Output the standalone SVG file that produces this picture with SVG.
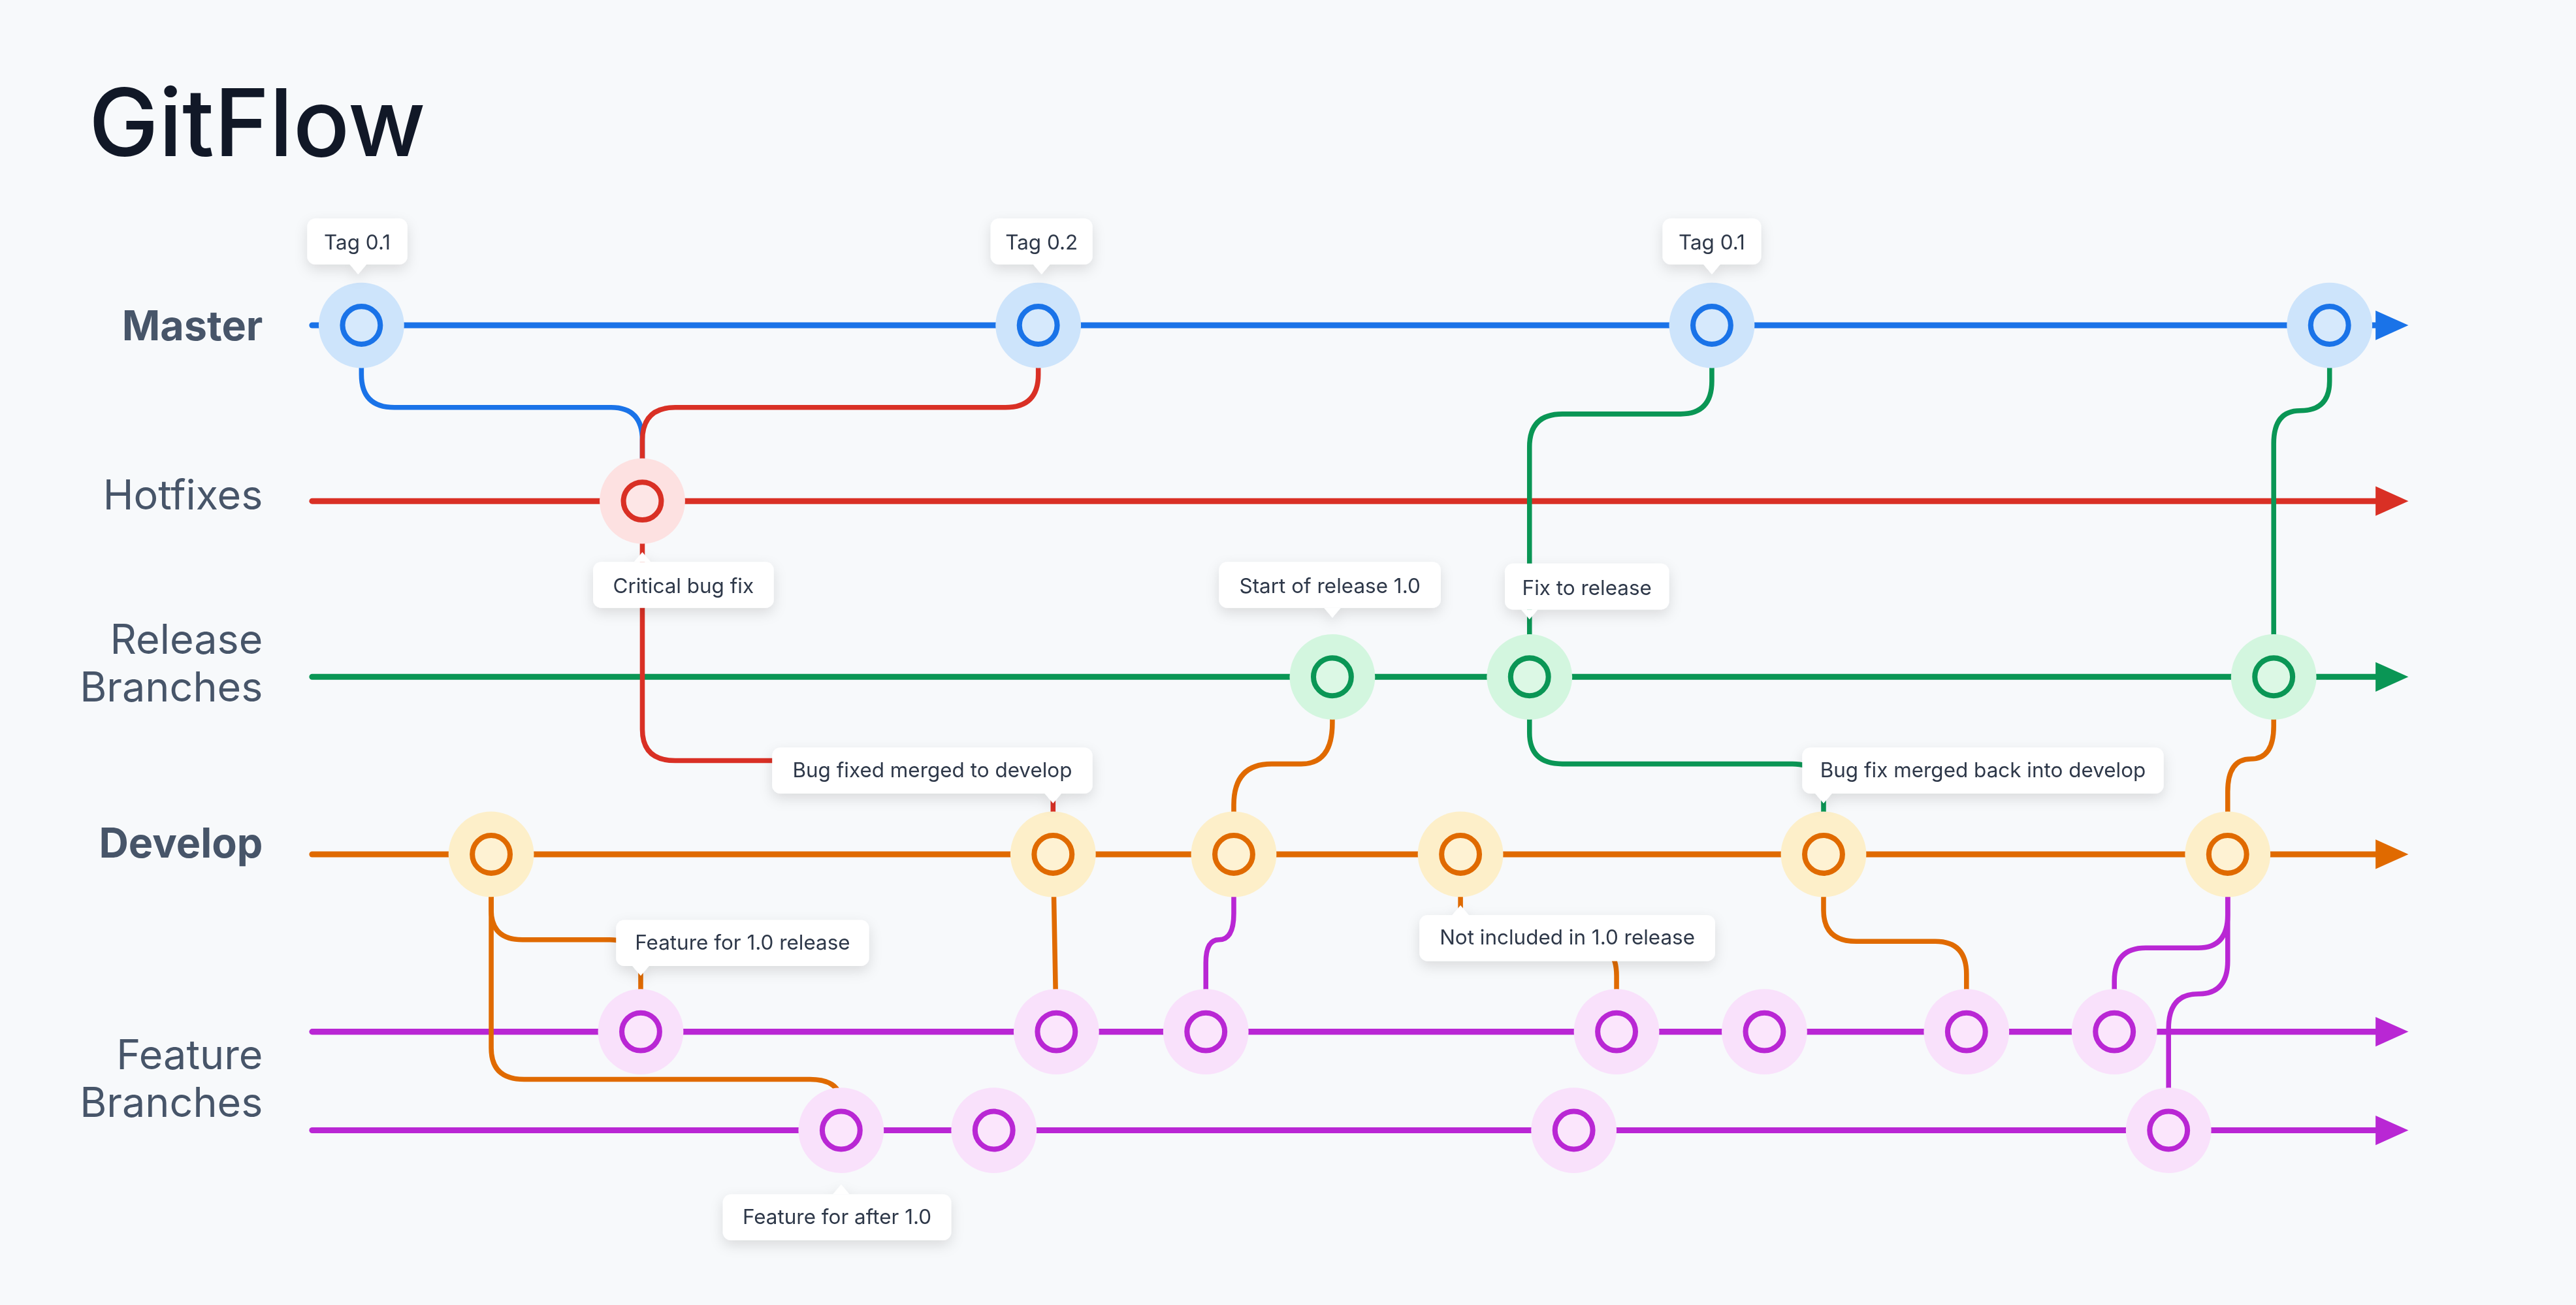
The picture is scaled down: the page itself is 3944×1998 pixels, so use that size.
<svg xmlns="http://www.w3.org/2000/svg" width="3944" height="1998" viewBox="0 0 3944 1998">
<defs>
<style>
.ln{fill:none;stroke-width:3.6;stroke-linecap:round}
.cn{fill:none;stroke-width:3;stroke-linecap:round}
.nd{stroke-width:3.2}
.lane{font-family:Inter,"Liberation Sans",sans-serif;font-size:25px;fill:#475569;text-anchor:end}
.tip{font-family:Inter,"Liberation Sans",sans-serif;font-size:12.5px;fill:#2d3748;text-anchor:middle}
.box{fill:#ffffff}
.b{stroke:#1a73e8}.r{stroke:#d93025}.g{stroke:#0a9655}.o{stroke:#e06a00}.p{stroke:#b927d4}
</style>
<filter id="sh" x="-30%" y="-60%" width="160%" height="240%">
<feDropShadow dx="0" dy="3" stdDeviation="4" flood-color="#000" flood-opacity="0.12"/>
</filter>
</defs>
<rect width="3944" height="1998" fill="#f7f9fb"/>
<g transform="scale(2.5153)">
<text x="54" y="95" font-family="Inter,'Liberation Sans',sans-serif" font-size="57" font-weight="500" fill="#111827">GitFlow</text>
<g id="lane-labels">
<text class="lane" x="160" y="207" font-weight="700">Master</text>
<text class="lane" x="160" y="310">Hotfixes</text>
<text class="lane" x="160" y="398">Release</text>
<text class="lane" x="160" y="427">Branches</text>
<text class="lane" x="160" y="522" font-weight="700">Develop</text>
<text class="lane" x="160" y="651">Feature</text>
<text class="lane" x="160" y="680">Branches</text>
</g>
<g id="lanes">
<line class="ln b" x1="190" y1="198" x2="1450" y2="198"/><polygon points="1446,189 1466,198 1446,207" fill="#1a73e8"/>
<line class="ln r" x1="190" y1="305" x2="1450" y2="305"/><polygon points="1446,296 1466,305 1446,314" fill="#d93025"/>
<line class="ln g" x1="190" y1="412" x2="1450" y2="412"/><polygon points="1446,403 1466,412 1446,421" fill="#0a9655"/>
<line class="ln o" x1="190" y1="520" x2="1450" y2="520"/><polygon points="1446,511 1466,520 1446,529" fill="#e06a00"/>
<line class="ln p" x1="190" y1="628" x2="1450" y2="628"/><polygon points="1446,619 1466,628 1446,637" fill="#b927d4"/>
<line class="ln p" x1="190" y1="688" x2="1450" y2="688"/><polygon points="1446,679 1466,688 1446,697" fill="#b927d4"/>
</g>
<g id="connectors">
<path class="cn b" d="M220,198 V228 Q220,248 240,248 H372 Q391,248 391,268 V305"/>
<path class="cn r" d="M391,305 V268 Q391,248 411,248 H612 Q632,248 632,228 V198"/>
<path class="cn r" d="M391,305 V444 Q391,463 411,463 H622 Q641,463 641,482 V520"/>
<path class="cn g" d="M931,412 V272 Q931,252 951,252 H1023 Q1042,252 1042,232 V198"/>
<path class="cn g" d="M931,412 V446 Q931,465 951,465 H1091 Q1110,465 1110,484 V520"/>
<path class="cn g" d="M1384,412 V270 Q1384,250 1400,250 Q1418,250 1418,232 V198"/>
<path class="cn o" d="M751,520 V490 Q751,465 774,465 H792 Q811,465 811,440 V412"/>
<path class="cn o" d="M1356,520 V482 Q1356,462 1370,462 Q1384,462 1384,442 V412"/>
<path class="cn o" d="M299,520 V554 Q299,572 318,572 H371 Q390,572 390,592 V628"/>
<path class="cn o" d="M299,520 V638 Q299,657 319,657 H493 Q512,657 512,672 V688"/>
<path class="cn o" d="M641,520 L643,628"/>
<path class="cn p" d="M734,628 V586 Q734,572 742,572 Q751,572 751,556 V520"/>
<path class="cn o" d="M889,520 V556 Q889,574 908,574 H966 Q984,574 984,594 V628"/>
<path class="cn o" d="M1110,520 V554 Q1110,573 1130,573 H1178 Q1197,573 1197,593 V628"/>
<path class="cn p" d="M1287,628 V597 Q1287,577 1306,577 H1338 Q1356,577 1356,557 V520"/>
<path class="cn p" d="M1320,688 V626 Q1320,605 1338,605 Q1356,605 1356,585 V520"/>
</g>
<g id="nodes">
<g id="m1"><circle cx="220" cy="198" r="26" fill="#cde4fb"/><circle class="nd b" cx="220" cy="198" r="11.5" fill="#d6e9fc"/></g>
<g id="m2"><circle cx="632" cy="198" r="26" fill="#cde4fb"/><circle class="nd b" cx="632" cy="198" r="11.5" fill="#d6e9fc"/></g>
<g id="m3"><circle cx="1042" cy="198" r="26" fill="#cde4fb"/><circle class="nd b" cx="1042" cy="198" r="11.5" fill="#d6e9fc"/></g>
<g id="m4"><circle cx="1418" cy="198" r="26" fill="#cde4fb"/><circle class="nd b" cx="1418" cy="198" r="11.5" fill="#d6e9fc"/></g>
<g id="h1"><circle cx="391" cy="305" r="26" fill="#fde1e1"/><circle class="nd r" cx="391" cy="305" r="11.5" fill="#fde6e6"/></g>
<g id="r1"><circle cx="811" cy="412" r="26" fill="#d3f6df"/><circle class="nd g" cx="811" cy="412" r="11.5" fill="#dcf8e5"/></g>
<g id="r2"><circle cx="931" cy="412" r="26" fill="#d3f6df"/><circle class="nd g" cx="931" cy="412" r="11.5" fill="#dcf8e5"/></g>
<g id="r3"><circle cx="1384" cy="412" r="26" fill="#d3f6df"/><circle class="nd g" cx="1384" cy="412" r="11.5" fill="#dcf8e5"/></g>
<g id="d1"><circle cx="299" cy="520" r="26" fill="#fdefc9"/><circle class="nd o" cx="299" cy="520" r="11.5" fill="#fef2d3"/></g>
<g id="d2"><circle cx="641" cy="520" r="26" fill="#fdefc9"/><circle class="nd o" cx="641" cy="520" r="11.5" fill="#fef2d3"/></g>
<g id="d3"><circle cx="751" cy="520" r="26" fill="#fdefc9"/><circle class="nd o" cx="751" cy="520" r="11.5" fill="#fef2d3"/></g>
<g id="d4"><circle cx="889" cy="520" r="26" fill="#fdefc9"/><circle class="nd o" cx="889" cy="520" r="11.5" fill="#fef2d3"/></g>
<g id="d5"><circle cx="1110" cy="520" r="26" fill="#fdefc9"/><circle class="nd o" cx="1110" cy="520" r="11.5" fill="#fef2d3"/></g>
<g id="d6"><circle cx="1356" cy="520" r="26" fill="#fdefc9"/><circle class="nd o" cx="1356" cy="520" r="11.5" fill="#fef2d3"/></g>
<g id="f1"><circle cx="390" cy="628" r="26" fill="#f9e1fb"/><circle class="nd p" cx="390" cy="628" r="11.5" fill="#fbe6fc"/></g>
<g id="f2"><circle cx="643" cy="628" r="26" fill="#f9e1fb"/><circle class="nd p" cx="643" cy="628" r="11.5" fill="#fbe6fc"/></g>
<g id="f3"><circle cx="734" cy="628" r="26" fill="#f9e1fb"/><circle class="nd p" cx="734" cy="628" r="11.5" fill="#fbe6fc"/></g>
<g id="f4"><circle cx="984" cy="628" r="26" fill="#f9e1fb"/><circle class="nd p" cx="984" cy="628" r="11.5" fill="#fbe6fc"/></g>
<g id="f5"><circle cx="1074" cy="628" r="26" fill="#f9e1fb"/><circle class="nd p" cx="1074" cy="628" r="11.5" fill="#fbe6fc"/></g>
<g id="f6"><circle cx="1197" cy="628" r="26" fill="#f9e1fb"/><circle class="nd p" cx="1197" cy="628" r="11.5" fill="#fbe6fc"/></g>
<g id="f7"><circle cx="1287" cy="628" r="26" fill="#f9e1fb"/><circle class="nd p" cx="1287" cy="628" r="11.5" fill="#fbe6fc"/></g>
<g id="g1"><circle cx="512" cy="688" r="26" fill="#f9e1fb"/><circle class="nd p" cx="512" cy="688" r="11.5" fill="#fbe6fc"/></g>
<g id="g2"><circle cx="605" cy="688" r="26" fill="#f9e1fb"/><circle class="nd p" cx="605" cy="688" r="11.5" fill="#fbe6fc"/></g>
<g id="g3"><circle cx="958" cy="688" r="26" fill="#f9e1fb"/><circle class="nd p" cx="958" cy="688" r="11.5" fill="#fbe6fc"/></g>
<g id="g4"><circle cx="1320" cy="688" r="26" fill="#f9e1fb"/><circle class="nd p" cx="1320" cy="688" r="11.5" fill="#fbe6fc"/></g>
</g>
<g id="labels" filter="url(#sh)">
<g id="t1"><rect class="box" x="187" y="133" width="61" height="28" rx="5"/><polygon class="box" points="213,161 218,167 223,161"/><text class="tip" x="217.5" y="152">Tag 0.1</text></g>
<g id="t2"><rect class="box" x="603" y="133" width="62" height="28" rx="5"/><polygon class="box" points="629,161 634,167 639,161"/><text class="tip" x="634" y="152">Tag 0.2</text></g>
<g id="t3"><rect class="box" x="1012" y="133" width="60" height="28" rx="5"/><polygon class="box" points="1037,161 1042,167 1047,161"/><text class="tip" x="1042" y="152">Tag 0.1</text></g>
<g id="l1"><rect class="box" x="361" y="342" width="110" height="28" rx="5"/><polygon class="box" points="386,342 391,336 396,342"/><text class="tip" x="416" y="361">Critical bug fix</text></g>
<g id="l2"><rect class="box" x="742" y="342" width="135" height="28" rx="5"/><polygon class="box" points="806,370 811,376 816,370"/><text class="tip" x="809.5" y="361">Start of release 1.0</text></g>
<g id="l3"><rect class="box" x="916" y="343" width="100" height="28" rx="5"/><polygon class="box" points="926,371 931,377 936,371"/><text class="tip" x="966" y="362">Fix to release</text></g>
<g id="l4"><rect class="box" x="470" y="455" width="195" height="28" rx="5"/><polygon class="box" points="636,483 641,489 646,483"/><text class="tip" x="567.5" y="473">Bug fixed merged to develop</text></g>
<g id="l5"><rect class="box" x="1097" y="455" width="220" height="28" rx="5"/><polygon class="box" points="1105,483 1110,489 1115,483"/><text class="tip" x="1207" y="473">Bug fix merged back into develop</text></g>
<g id="l6"><rect class="box" x="375" y="560" width="154" height="28" rx="5"/><polygon class="box" points="385,588 390,594 395,588"/><text class="tip" x="452" y="578">Feature for 1.0 release</text></g>
<g id="l7"><rect class="box" x="864" y="557" width="180" height="28" rx="5"/><polygon class="box" points="884,557 889,551 894,557"/><text class="tip" x="954" y="575">Not included in 1.0 release</text></g>
<g id="l8"><rect class="box" x="440" y="727" width="139" height="28" rx="5"/><polygon class="box" points="507,727 512,721 517,727"/><text class="tip" x="509.5" y="745">Feature for after 1.0</text></g>
</g>
</g>
</svg>
